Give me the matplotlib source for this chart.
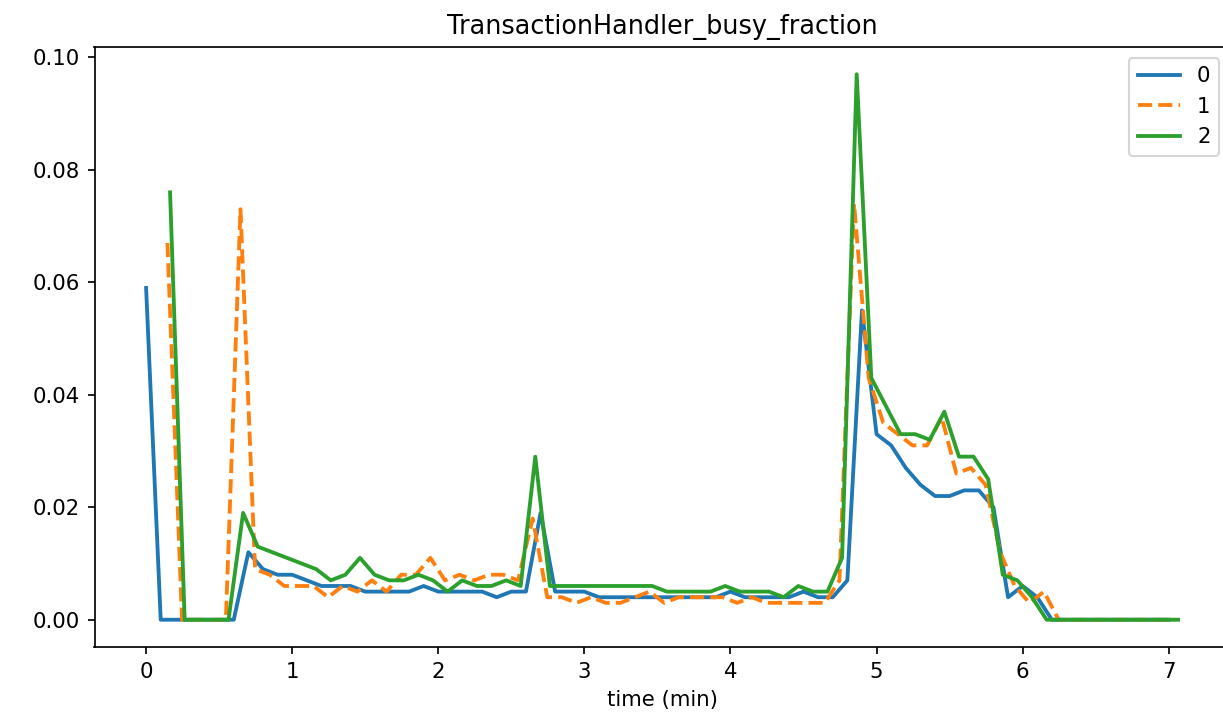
import numpy as np
import matplotlib
matplotlib.use("Agg")
import matplotlib.pyplot as plt

# sampling grid (minutes)
step = 0.1
start_0 = 0.0
start_1 = 0.146
start_2 = 0.164

labels = ["0", "1", "2"]

series_0 = [0.059, 0.0, 0.0, 0.0, 0.0, 0.0, 0.0, 0.012, 0.009, 0.008,
            0.008, 0.007, 0.006, 0.006, 0.006, 0.005, 0.005, 0.005, 0.005, 0.006,
            0.005, 0.005, 0.005, 0.005, 0.004, 0.005, 0.005, 0.019, 0.005, 0.005,
            0.005, 0.004, 0.004, 0.004, 0.004, 0.004, 0.004, 0.004, 0.004, 0.004,
            0.005, 0.004, 0.004, 0.004, 0.004, 0.005, 0.004, 0.004, 0.007, 0.055,
            0.033, 0.031, 0.027, 0.024, 0.022, 0.022, 0.023, 0.023, 0.020, 0.004,
            0.006, 0.004, 0.0, 0.0, 0.0, 0.0, 0.0, 0.0, 0.0, 0.0,
            0.0]

series_1 = [0.067, 0.0, 0.0, 0.0, 0.0, 0.073, 0.009, 0.008, 0.006, 0.006,
            0.006, 0.004, 0.006, 0.005, 0.007, 0.005, 0.008, 0.008, 0.011, 0.007,
            0.008, 0.007, 0.008, 0.008, 0.007, 0.018, 0.004, 0.004, 0.003, 0.004,
            0.003, 0.003, 0.004, 0.005, 0.003, 0.004, 0.004, 0.004, 0.004, 0.003,
            0.004, 0.003, 0.003, 0.003, 0.003, 0.003, 0.007, 0.074, 0.043, 0.035,
            0.033, 0.031, 0.031, 0.036, 0.026, 0.027, 0.024, 0.012, 0.006, 0.003,
            0.005, 0.0, 0.0, 0.0, 0.0, 0.0, 0.0, 0.0, 0.0, 0.0]

series_2 = [0.076, 0.0, 0.0, 0.0, 0.0, 0.019, 0.013, 0.012, 0.011, 0.010,
            0.009, 0.007, 0.008, 0.011, 0.008, 0.007, 0.007, 0.008, 0.007, 0.005,
            0.007, 0.006, 0.006, 0.007, 0.006, 0.029, 0.006, 0.006, 0.006, 0.006,
            0.006, 0.006, 0.006, 0.006, 0.005, 0.005, 0.005, 0.005, 0.006, 0.005,
            0.005, 0.005, 0.004, 0.006, 0.005, 0.005, 0.011, 0.097, 0.043, 0.038,
            0.033, 0.033, 0.032, 0.037, 0.029, 0.029, 0.025, 0.008, 0.007, 0.004,
            0.0, 0.0, 0.0, 0.0, 0.0, 0.0, 0.0, 0.0, 0.0, 0.0]

DPI = 153
fig = plt.figure(figsize=(1223 / DPI, 719 / DPI), dpi=DPI)
# the reference frame runs slightly past the right edge of the image
ax = fig.add_axes([94.5 / 1223, 1 - 647 / 719, (1229.7 - 94.5) / 1223, (647 - 47) / 719])

for start, vals, lab, ls in zip([start_0, start_1, start_2],
                                [series_0, series_1, series_2],
                                labels, ["-", "--", "-"]):
    t = start + step * np.arange(len(vals))
    ax.plot(t, vals, linestyle=ls, linewidth=1.8, label=lab)

ax.set_title("TransactionHandler_busy_fraction")
ax.set_xlabel("time (min)")
ax.legend(loc="upper right")

fig.savefig("out.png", dpi=DPI)
